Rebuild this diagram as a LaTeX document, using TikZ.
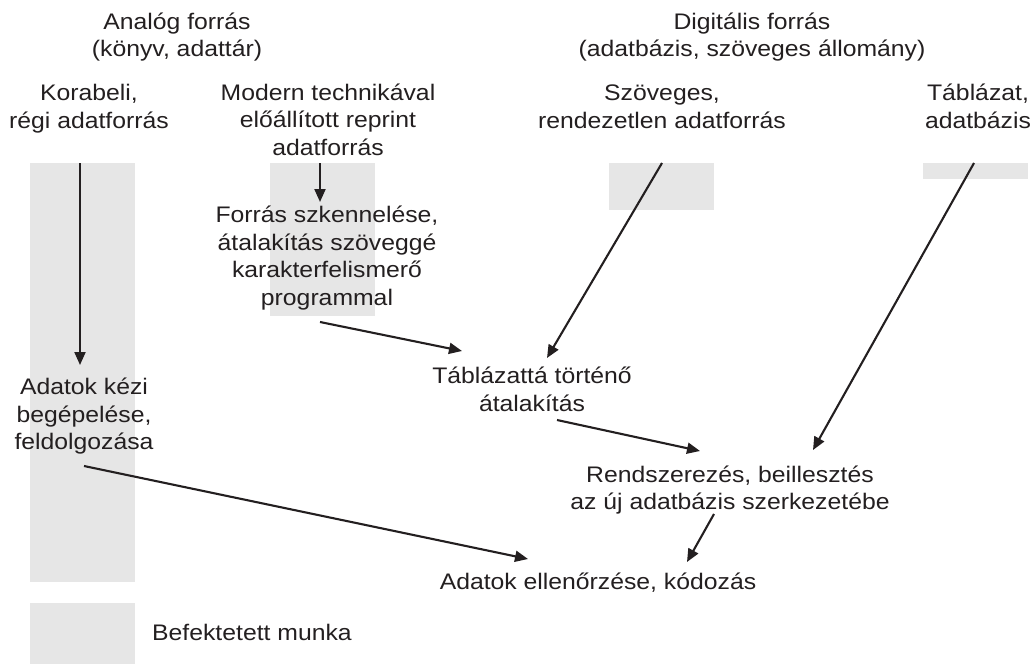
\documentclass[tikz,border=0pt]{standalone}
\usepackage{fontspec}
\setmainfont{Liberation Sans}[FakeStretch=1.1]
\usetikzlibrary{arrows.meta}
\definecolor{ink}{HTML}{231F20}
\definecolor{effort}{HTML}{E6E6E6}
\tikzset{
  % multi-line labels are placed by the baseline of their last line
  lbl/.style={align=center, anchor=base, inner sep=0pt, text=ink,
    font=\fontsize{22.5}{27.5}\selectfont},
  bar/.style={fill=effort, draw=none},
  arr/.style={draw=ink, line width=2.1pt,
    -{Triangle[length=13pt,width=11pt]}},
}
\begin{document}
\begin{tikzpicture}[x=1pt,y=-1pt]
\useasboundingbox (0,0) rectangle (1034,664);

% grey bars: invested work
\fill[bar] (30,163) rectangle (135,582);
\fill[bar] (270,163) rectangle (375,316);
\fill[bar] (609,163) rectangle (714,210);
\fill[bar] (923,163) rectangle (1028,179);
\fill[bar] (30,603) rectangle (135,664);

% headings
\node[lbl] (analog) at (177,56.5) {Analóg forrás\\(könyv, adattár)};
\node[lbl] (digital) at (752,56.5) {Digitális forrás\\(adatbázis, szöveges állomány)};

% sources
\node[lbl] (old) at (89,128) {Korabeli,\\régi adatforrás};
\node[lbl] (reprint) at (328,155) {Modern technikával\\előállított reprint\\adatforrás};
\node[lbl] (text) at (662,128) {Szöveges,\\rendezetlen adatforrás};
\node[lbl] (table) at (978,128) {Táblázat,\\adatbázis};

% processing steps
\node[lbl] (scan) at (327,305) {Forrás szkennelése,\\átalakítás szöveggé\\karakterfelismerő\\programmal};
\node[lbl] (manual) at (84,449.5) {Adatok kézi\\begépelése,\\feldolgozása};
\node[lbl] (totable) at (532,411) {Táblázattá történő\\átalakítás};
\node[lbl] (arrange) at (730,509.5) {Rendszerezés, beillesztés\\az új adatbázis szerkezetébe};
\node[lbl] (check) at (598,589) {Adatok ellenőrzése, kódozás};

% legend
\node[lbl, anchor=base west] (legend) at (152,640) {Befektetett munka};

% connector end points
\coordinate (oldS) at (80,163);
\coordinate (manualN) at (80,365);
\coordinate (reprintS) at (320,163);
\coordinate (scanN) at (320,202);
\coordinate (scanS) at (320,322);
\coordinate (totableW) at (462,351);
\coordinate (textS) at (662,163);
\coordinate (totableN) at (547,358);
\coordinate (tableS) at (974,163);
\coordinate (arrangeNE) at (813,450);
\coordinate (totableS) at (557,420);
\coordinate (arrangeNW) at (700,451);
\coordinate (manualS) at (84,466);
\coordinate (checkW) at (528,559);
\coordinate (arrangeS) at (714,514);
\coordinate (checkN) at (687,562);

% connectors
\draw[arr] (oldS) -- (manualN);
\draw[arr] (reprintS) -- (scanN);
\draw[arr] (scanS) -- (totableW);
\draw[arr] (textS) -- (totableN);
\draw[arr] (tableS) -- (arrangeNE);
\draw[arr] (totableS) -- (arrangeNW);
\draw[arr] (manualS) -- (checkW);
\draw[arr] (arrangeS) -- (checkN);
\end{tikzpicture}
\end{document}
